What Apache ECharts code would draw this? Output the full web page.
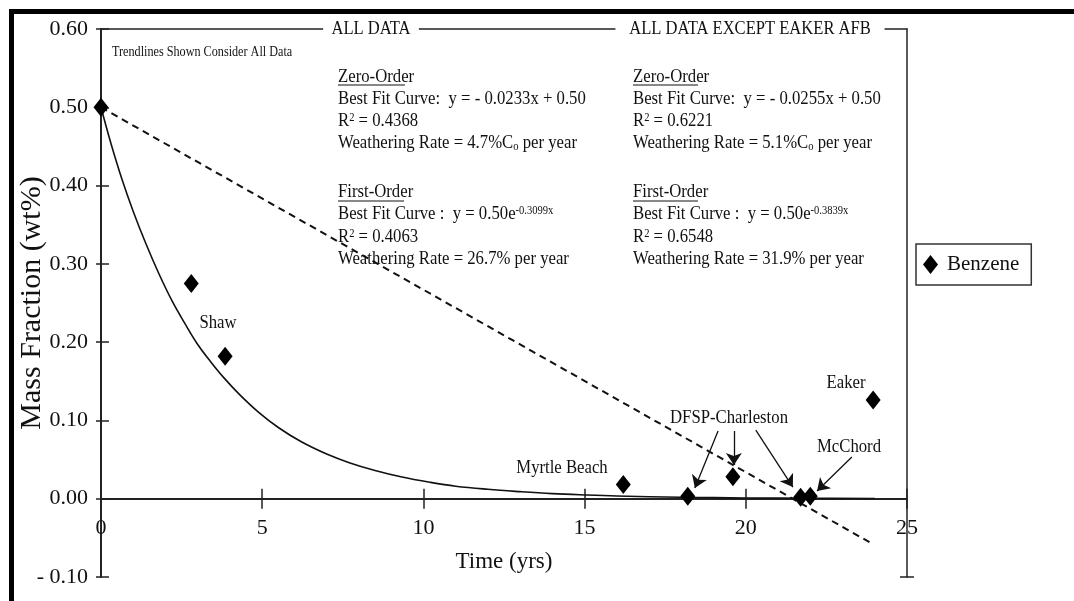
<!DOCTYPE html>
<html>
<head>
<meta charset="utf-8">
<title>Benzene weathering</title>
<script src="https://cdn.jsdelivr.net/npm/echarts@6/dist/echarts.min.js"></script>
<style>html,body{margin:0;padding:0;background:#fff;}</style>
</head>
<body>
<div id="main" style="width:1074px;height:601px;"></div>
<script type="text/javascript">
// measured benzene points (years, wt%)
var benzeneX = [0, 2.8, 3.85, 16.2, 18.2, 19.6, 21.7, 22.0, 23.95];
var benzeneY = [0.50, 0.275, 0.182, 0.018, 0.003, 0.028, 0.002, 0.003, 0.126];

// first-order trendline
var curveX = [0, 0.3, 0.65, 1.0, 1.4, 1.8, 2.2, 2.6, 3.0, 3.4, 3.8, 4.3, 4.9, 5.5, 6.2, 7.0, 7.7, 8.5, 9.3, 10.2, 11, 12, 13, 14, 15, 16, 18, 20, 22, 24];
var curveY = [0.50, 0.455, 0.408, 0.367, 0.325, 0.287, 0.253, 0.224, 0.197, 0.175, 0.155, 0.133, 0.110, 0.091, 0.073, 0.057, 0.046, 0.036, 0.028, 0.021, 0.016, 0.012, 0.009, 0.0065, 0.0048, 0.0035, 0.0019, 0.001, 0.0005, 0.0003];

// zero-order trendline end points
var zeroX = [0, 23.9];
var zeroY = [0.50, -0.057];

// arrows: [fromX, fromY, toX, toY]
var arrows = [
    [19.14, 0.0865, 18.42, 0.0137],
    [19.63, 0.0865, 19.63, 0.043],
    [20.31, 0.0877, 21.46, 0.0149],
    [23.29, 0.0533, 22.21, 0.0098]
];

var xTicks = [0, 25, 5];        // min, max, step
var yTicks = [-0.1, 0.6, 0.1];

var pointLabels = ['Shaw', 'Myrtle Beach', 'DFSP-Charleston', 'McChord', 'Eaker'];

var leftNotes = [
    'Zero-Order',
    'Best Fit Curve:  y = - 0.0233x + 0.50',
    'R{sup|2} = 0.4368',
    'Weathering Rate = 4.7%C{sub|o} per year',
    'First-Order',
    'Best Fit Curve :  y = 0.50e{sup|-0.3099x}',
    'R{sup|2} = 0.4063',
    'Weathering Rate = 26.7% per year'
];
var rightNotes = [
    'Zero-Order',
    'Best Fit Curve:  y = - 0.0255x + 0.50',
    'R{sup|2} = 0.6221',
    'Weathering Rate = 5.1%C{sub|o} per year',
    'First-Order',
    'Best Fit Curve :  y = 0.50e{sup|-0.3839x}',
    'R{sup|2} = 0.6548',
    'Weathering Rate = 31.9% per year'
];

var FONT = '"Liberation Serif", "Times New Roman", serif';
var INK = '#111';

function zip(a, b) {
    return a.map(function (v, i) { return [v, b[i]]; });
}

function txt(x, y, s, size, extra) {
    extra = extra || {};
    var style = {
        text: s,
        fontFamily: FONT,
        fontSize: size,
        fill: INK,
        align: extra.align || 'left',
        textAlign: extra.align || 'left',
        verticalAlign: 'middle',
        textVerticalAlign: 'middle',
        rich: {
            sup: { fontFamily: FONT, fontSize: 12, fill: INK, verticalAlign: 'top' },
            sub: { fontFamily: FONT, fontSize: 12, fill: INK, verticalAlign: 'bottom' }
        }
    };
    if (extra.bg) {
        style.backgroundColor = '#fff';
        style.padding = extra.pad;
    }
    return {
        type: 'text', x: x, y: y, z: 100,
        scaleX: extra.sx || 0.88,
        style: style
    };
}

function hline(x1, x2, y, w) {
    return {
        type: 'line', z: 100,
        shape: { x1: x1, y1: y, x2: x2, y2: y },
        style: { stroke: INK, lineWidth: w || 1 }
    };
}

var lineYs = [77, 99, 121, 143, 192, 214, 237, 259];
var graphics = [];

// thick outer frame
graphics.push({
    type: 'rect', z: 100,
    shape: { x: 11.5, y: 11.5, width: 1100, height: 700 },
    style: { fill: 'none', stroke: '#000', lineWidth: 5 }
});

graphics.push(txt(112, 52, 'Trendlines Shown Consider All Data', 14, { sx: 0.87 }));
graphics.push(txt(371, 29, 'ALL DATA', 18, { align: 'center', sx: 0.92, bg: true, pad: [2, 9] }));
graphics.push(txt(750, 29, 'ALL DATA EXCEPT EAKER AFB', 18, { align: 'center', sx: 0.92, bg: true, pad: [2, 15] }));

leftNotes.forEach(function (s, i) { graphics.push(txt(338, lineYs[i], s, 19)); });
rightNotes.forEach(function (s, i) { graphics.push(txt(633, lineYs[i], s, 19)); });
graphics.push(hline(338, 405, 85), hline(338, 404, 201), hline(633, 698, 85), hline(633, 698, 201));

// point labels
graphics.push(txt(218, 323, pointLabels[0], 19, { align: 'center' }));
graphics.push(txt(562, 468, pointLabels[1], 19, { align: 'center' }));
graphics.push(txt(729, 418, pointLabels[2], 19, { align: 'center' }));
graphics.push(txt(849, 447, pointLabels[3], 19, { align: 'center' }));
graphics.push(txt(846, 383, pointLabels[4], 19, { align: 'center' }));

var myChart = echarts.init(document.getElementById('main'));

var gridTop = 29, gridBottom = 24;
var plotH = 601 - gridTop - gridBottom;
// lift the x axis from the grid bottom up to y = 0
var zeroOffset = -plotH * (0 - yTicks[0]) / (yTicks[1] - yTicks[0]);

var axisLineStyle = { color: '#222', width: 2 };
var tickStyle = { color: '#222', width: 1.5 };

function hiddenScaleX(extra) {
    return Object.assign({
        type: 'value', min: xTicks[0], max: xTicks[1], interval: xTicks[2],
        axisLabel: { show: false }, splitLine: { show: false }
    }, extra);
}
function hiddenScaleY(extra) {
    return Object.assign({
        type: 'value', min: yTicks[0], max: yTicks[1], interval: yTicks[2],
        axisLabel: { show: false }, splitLine: { show: false }
    }, extra);
}

var option = {
    animation: false,
    backgroundColor: '#fff',
    grid: { left: 101, right: 167, top: gridTop, bottom: gridBottom, outerBoundsMode: 'none' },
    legend: {
        data: ['Benzene'],
        left: 916, top: 244,
        orient: 'vertical',
        icon: 'diamond',
        itemWidth: 15, itemHeight: 19,
        padding: [10, 12, 10, 7],
        borderColor: '#333', borderWidth: 1.5, borderRadius: 0,
        textStyle: { fontFamily: FONT, fontSize: 21, color: INK, padding: [0, 0, 0, 4] }
    },
    xAxis: [
        {
            type: 'value', min: xTicks[0], max: xTicks[1], interval: xTicks[2],
            position: 'bottom', offset: zeroOffset,
            axisLine: { onZero: false, lineStyle: axisLineStyle },
            axisTick: { show: true, inside: false, length: 10, lineStyle: tickStyle },
            axisLabel: { margin: 19, fontFamily: FONT, fontSize: 22, color: INK, showMinLabel: true, showMaxLabel: true },
            splitLine: { show: false },
            name: 'Time (yrs)', nameLocation: 'middle', nameGap: 52, nameMoveOverlap: false,
            nameTextStyle: { fontFamily: FONT, fontSize: 23, color: INK }
        },
        hiddenScaleX({
            position: 'bottom', offset: zeroOffset,
            axisLine: { show: false, onZero: false },
            axisTick: { show: true, inside: true, length: 10, lineStyle: tickStyle }
        }),
        hiddenScaleX({
            position: 'top',
            axisLine: { show: true, onZero: false, lineStyle: { color: '#222', width: 1.5 } },
            axisTick: { show: false }
        })
    ],
    yAxis: [
        {
            type: 'value', min: yTicks[0], max: yTicks[1], interval: yTicks[2],
            position: 'left',
            axisLine: { show: true, onZero: false, lineStyle: axisLineStyle },
            axisTick: { show: true, inside: false, length: 5, lineStyle: tickStyle },
            axisLabel: {
                margin: 13, fontFamily: FONT, fontSize: 22, color: INK,
                formatter: function (v) {
                    return v < 0 ? '- ' + Math.abs(v).toFixed(2) : v.toFixed(2);
                }
            },
            splitLine: { show: false },
            name: 'Mass Fraction (wt%)', nameLocation: 'middle', nameGap: 54, nameMoveOverlap: false,
            nameTextStyle: { fontFamily: FONT, fontSize: 30, color: INK }
        },
        hiddenScaleY({
            position: 'left',
            axisLine: { show: false, onZero: false },
            axisTick: { show: true, inside: true, length: 8, lineStyle: tickStyle }
        }),
        hiddenScaleY({
            position: 'right',
            axisLine: { show: true, onZero: false, lineStyle: { color: '#222', width: 1.5 } },
            axisTick: { show: true, inside: false, length: 7, lineStyle: tickStyle, customValues: [yTicks[0]] }
        }),
        hiddenScaleY({
            position: 'right',
            axisLine: { show: false, onZero: false },
            axisTick: { show: true, inside: true, length: 7, lineStyle: tickStyle, customValues: [yTicks[0]] }
        })
    ],
    series: [
        {
            name: 'First-order fit', type: 'line',
            data: zip(curveX, curveY),
            showSymbol: false, smooth: 0.4,
            lineStyle: { color: '#111', width: 1.6 },
            silent: true, z: 2
        },
        {
            name: 'Zero-order fit', type: 'line',
            data: zip(zeroX, zeroY),
            showSymbol: false,
            lineStyle: { color: '#111', width: 2, type: [7, 5] },
            silent: true, z: 2
        },
        {
            name: 'Benzene', type: 'scatter',
            data: zip(benzeneX, benzeneY),
            symbol: 'diamond', symbolSize: [15, 19],
            itemStyle: { color: '#000', opacity: 1 },
            z: 5,
            markLine: {
                silent: true,
                symbol: ['none', 'arrow'],
                symbolSize: 12,
                label: { show: false },
                lineStyle: { color: '#111', width: 1.3, type: 'solid' },
                data: arrows.map(function (a) {
                    return [{ coord: [a[0], a[1]] }, { coord: [a[2], a[3]] }];
                })
            }
        }
    ],
    graphic: graphics
};

myChart.setOption(option);
</script>
</body>
</html>
